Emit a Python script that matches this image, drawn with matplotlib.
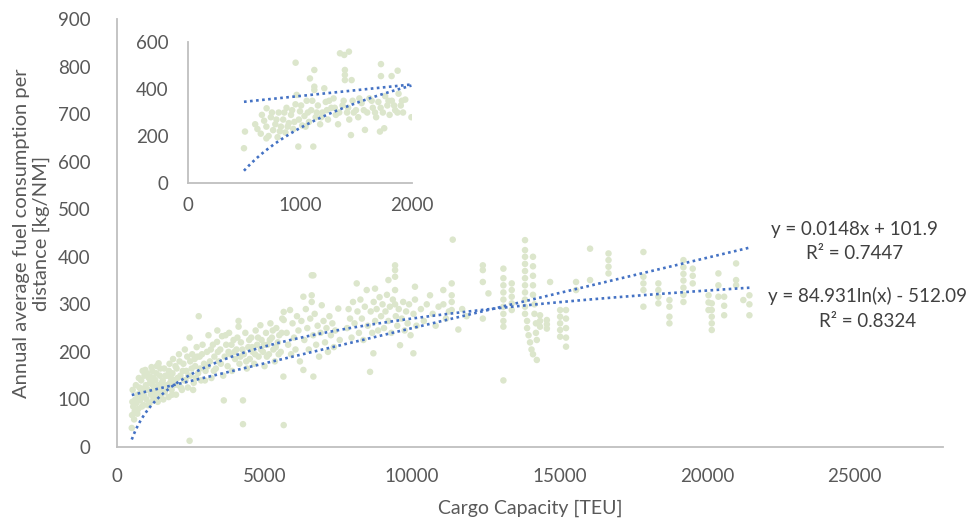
import matplotlib.pyplot as plt
import numpy as np

plt.rcParams['font.family'] = ['Lato', 'DejaVu Sans']

# container ships: cargo capacity [TEU] vs annual fuel per distance [kg/NM]
capacity = [
    500, 510, 550, 600, 620, 650, 700, 720, 760, 780, 820, 850, 880, 900, 930, 960, 980, 1000,
    1050, 1080, 1100, 1130, 1150, 1180, 1200, 1230, 1260, 1300, 1320, 1350, 1380, 1410, 1420,
    1450, 1480, 1500,
    520, 530, 580, 640, 690, 740, 800, 840, 870, 920, 950, 1020, 1060, 1120, 1170, 1210, 1240,
    1290, 1330, 1370, 1440, 1470, 1520, 1570, 1640, 1720, 1760, 1830, 1870, 1920, 1980, 2050,
    2120, 2170, 2230, 2320, 2380, 2420, 2530, 2580, 2630, 2680, 2720, 2820, 2880, 2980,
    1550, 1600, 1620, 1680, 1700, 1750, 1780, 1800, 1850, 1880, 1900, 1950, 2000, 2020, 2080,
    2100, 2150, 2200, 2250, 2280, 2300, 2350, 2400, 2460, 2460, 2480, 2500, 2550, 2600, 2650,
    2700, 2770, 2750, 2800, 2850, 2900, 2950, 3000,
    3050, 3100, 3150, 3200, 3250, 3300, 3350, 3390, 3400, 3450, 3500, 3560, 3600, 3620, 3650,
    3700, 3750, 3800, 3850, 3900, 3950, 4000, 4050, 4120, 4120, 4150, 4200, 4270, 4270, 4300,
    4350, 4400, 4450, 4500, 4550, 4600, 4650, 4700, 4750, 4800, 4860, 4900, 4950, 5000, 5050,
    5100, 5150, 5200, 5250, 5300, 5350, 5400, 5450, 5500, 5550, 5600, 5650, 5650, 5640, 5650,
    3080, 3180, 3280, 3420, 3520, 3680, 3780, 3880, 3980, 4080, 4180, 4250, 4380, 4480, 4580,
    4680, 4780, 4880, 4980, 5080, 5180, 5280, 5380, 5480, 5580,
    5750, 5800, 5865, 5900, 5950, 6000, 6050, 6100, 6150, 6200, 6250, 6317, 6317, 6350, 6400,
    6450, 6500, 6550, 6600, 6600, 6600, 6656, 6656, 6650, 6700, 6750, 6800, 6850, 6900, 6940,
    7000, 7050, 7100, 7150, 7200, 7250, 7300, 7350, 7400, 7500, 7550,
    7800, 7850, 7900, 7950, 8000, 8050, 8125, 8150, 8200, 8250, 8300, 8350, 8400, 8464, 8500,
    8577, 8600, 8650, 8690, 8700, 8746, 8750, 8800, 8850, 8900, 8950, 9000, 9050, 9100, 9150,
    9200, 9200, 9250, 9300, 9350, 9425, 9425, 9425, 9425, 9425, 9450, 9500, 9550, 9594, 9650,
    9700, 9750, 9800, 9850, 9900, 9950, 10046, 10050, 10100, 10100, 10150,
    10300, 10400, 10500, 10610, 10700, 10800, 10900, 11060, 11063, 11150, 11250, 11345, 11345,
    11345, 11345, 11380, 11570, 11700, 11850,
    12400, 12400, 12400, 12400, 12590, 13097, 13097, 13097, 13097, 13097, 13097, 13097, 13097,
    13097, 13097, 13380, 13380, 13380, 13380, 13380, 13830, 13830, 13830, 13830, 13830, 13830,
    13830, 13830, 13830, 13830, 13830, 13900, 13900, 13950, 14000, 14050, 14100, 14230, 14100,
    14100, 14100, 14100, 14100, 14150, 14150, 14200, 14200, 14230, 14340, 14340, 14340, 14570,
    14570, 14570, 14680, 15020, 15020, 15020, 15020, 15020, 15220, 15220, 15220, 15220, 15220,
    15560, 15560, 16035, 16035, 16660, 16660, 16660, 16660,
    17843, 17843, 17843, 17843, 17843, 18350, 18350, 18350, 18350, 18725, 18725, 18725, 18725,
    19200, 19200, 19200, 19200, 19200, 19200, 19200, 19515, 19515, 19515, 20050, 20050, 20050,
    20160, 20160, 20160, 20160, 20160, 20385, 20385, 20385, 20580, 20580, 20580, 20985, 20985,
    20985, 21230, 21436, 21436, 21436,
]
fuel = [
    40, 67, 85, 75, 100, 92, 110, 80, 125, 98, 140, 105, 118, 88, 150, 162, 130, 100,
    120, 145, 92, 148, 110, 132, 160, 100, 125, 140, 115, 170, 95, 176, 130,
    150, 108, 122,
    95, 120, 58, 130, 70, 145, 115, 85, 160, 108, 125, 155, 88, 135, 168, 118, 145,
    105, 155, 128, 112, 165, 135, 100, 150, 125, 160, 145, 110, 130, 170, 145,
    180, 125, 160, 140, 190, 150, 165, 120, 185, 145, 190, 165, 195, 140,
    140, 165, 115, 130, 150, 105, 175, 135, 120, 155, 185, 140, 110, 165, 130,
    195, 150, 120, 175, 140, 205, 160, 125, 230, 13, 180, 150, 195, 135, 170,
    210, 275, 155, 190, 140, 215, 175, 160,
    200, 235, 180, 145, 215, 190, 165, 221, 245, 180, 205, 233, 150, 98, 190,
    215, 170, 240, 195, 160, 225, 185, 205, 265, 253, 175, 220, 98, 48, 195,
    240, 165, 210, 185, 230, 200, 175, 245, 215, 190, 256, 225, 200, 170, 240,
    215, 195, 260, 230, 205, 180, 250, 220, 235, 200, 270, 284, 267, 148, 46,
    170, 205, 160, 200, 175, 235, 200, 215, 200, 230, 190, 205, 180, 225, 210,
    195, 230, 205, 215, 190, 225, 245, 210, 195, 240,
    240, 215, 288, 195, 260, 230, 205, 275, 245, 180, 265, 316, 162, 225, 290,
    250, 205, 270, 361, 319, 305, 361, 148, 235, 280, 215, 255, 190, 240, 298,
    265, 220, 250, 200, 275, 235, 260, 210, 245, 291, 225,
    250, 290, 270, 230, 305, 260, 344, 285, 240, 310, 270, 225, 295, 330, 255,
    158, 285, 240, 197, 305, 333, 265, 290, 245, 315, 275, 300, 250, 285, 320,
    351, 265, 295, 240, 310, 382, 372, 358, 330, 300, 275, 255, 290, 214, 270,
    305, 245, 285, 260, 300, 235, 197, 280, 337, 310, 255,
    290, 265, 300, 319, 280, 255, 295, 330, 300, 270, 285, 344, 319,
    305, 288, 436, 247, 290, 275,
    382, 372, 347, 270, 323, 375, 355, 340, 325, 310, 295, 280, 265,
    253, 140, 344, 330, 316, 302, 288, 435, 414, 400, 385, 370, 355,
    340, 325, 310, 295, 280, 265, 250, 235, 220, 205, 195, 183, 400,
    380, 360, 340, 320, 300, 280, 260, 240, 225, 277, 265, 253, 267,
    258, 249, 347, 288, 274, 260, 246, 232, 288, 270, 250, 230, 211,
    347, 330, 417, 351, 407, 393, 379, 365,
    410, 358, 344, 330, 295, 344, 330, 316, 302, 309, 295, 274, 260,
    393, 378, 364, 350, 335, 320, 305, 375, 360, 344, 319, 304, 288,
    302, 288, 274, 260, 246, 365, 340, 316, 316, 297, 277, 386, 351,
    340, 309, 319, 300, 277,
]

# smaller ships shown in the inset
inset_capacity = [
    500, 509, 600, 620, 650, 680, 700, 702, 720, 740, 760, 780, 800, 810, 830, 850, 870, 880,
    900, 920, 940, 960, 961, 970, 985, 990, 1000, 1020, 1040, 1060, 1080, 1089, 1100, 1119,
    1128, 1128, 1128, 1140, 1160, 1180, 1200, 1217, 1230, 1250, 1280, 1300, 1320, 1340, 1357,
    1380, 1395, 1401, 1401, 1401, 1420, 1437, 1440, 1455, 1461, 1470, 1500, 1520, 1550, 1580,
    1600, 1620, 1650, 1680, 1700, 1714, 1723, 1723, 1740, 1752, 1760, 1780, 1800, 1818, 1820,
    1850, 1872, 1880, 1900, 1920, 1940, 1995,
    660, 700, 750, 790, 820, 860, 890, 930, 950, 1010, 1050, 1070, 1110, 1150, 1190, 1240, 1260,
    1310, 1350, 1390, 1430, 1480, 1530, 1570, 1640, 1670, 1720, 1790, 1840, 1870, 1910,
]
inset_fuel = [
    148, 219, 250, 230, 210, 265, 240, 318, 200, 280, 225, 250, 195, 300, 240, 270, 215, 320,
    255, 290, 230, 335, 512, 375, 155, 270, 305, 245, 285, 350, 260, 445, 310, 155,
    481, 410, 396, 280, 330, 250, 300, 403, 345, 270, 320, 360, 290, 250, 552,
    330, 545, 481, 460, 438, 300, 559, 270, 204, 438, 350, 310, 280, 340, 226,
    300, 360, 320, 280, 345, 219, 506, 455, 300, 233, 370, 330, 290, 455, 350,
    310, 478, 380, 330, 300, 355, 280,
    290, 190, 300, 270, 220, 300, 240, 310, 260, 330, 240, 300, 350, 300, 280, 310, 350,
    320, 300, 350, 320, 300, 360, 310, 350, 300, 320, 350, 330, 300, 350,
]

# Excel trendlines (equations printed on the chart)
lin_slope, lin_icpt = 0.0148, 101.9
log_coef, log_icpt = 84.931, -512.09
inset_lin_slope, inset_lin_icpt = 0.0493, 321.0
inset_log_coef, inset_log_icpt = 262.0, -1576.0

grey_txt = '#595959'
axis_col = '#bfbfbf'
dot_col = '#dce6cc'
trend_col = '#4472c4'
trend_ls = (0, (1, 1.3))
fs = 13.5

fig = plt.figure(figsize=(9.8, 5.22), dpi=100)
ax = fig.add_axes([0.1194, 0.1437, 0.8429, 0.8199])

cap = np.array(capacity, dtype=float)
ax.scatter(cap, fuel, s=22, color=dot_col, edgecolors='none', zorder=2)

xs = np.linspace(cap.min(), cap.max(), 300)
ax.plot(xs, lin_slope * xs + lin_icpt, color=trend_col, lw=1.9, ls=trend_ls, zorder=3)
ax.plot(xs, log_coef * np.log(xs) + log_icpt, color=trend_col, lw=1.9, ls=trend_ls, zorder=3)

ax.set_xlim(0, 28000)
ax.set_ylim(0, 900)
ax.set_xticks(np.arange(0, 25001, 5000))
ax.set_yticks(np.arange(0, 901, 100))
for s in ['top', 'right']:
    ax.spines[s].set_visible(False)
for s in ['left', 'bottom']:
    ax.spines[s].set_color(axis_col)
    ax.spines[s].set_linewidth(1.3)
ax.tick_params(axis='x', length=0, pad=15, labelsize=fs, labelcolor=grey_txt)
ax.tick_params(axis='y', length=0, pad=19, labelsize=fs, labelcolor=grey_txt)

ax.set_xlabel('Cargo Capacity [TEU]', fontsize=14, color=grey_txt, labelpad=11)
ax.set_ylabel('Annual average fuel consumption per\ndistance [kg/NM]', fontsize=14.5,
              color=grey_txt, labelpad=6, linespacing=1.15)

eq_col = '#404040'
ax.text(0.893, 0.509, 'y = 0.0148x + 101.9', transform=ax.transAxes, ha='center',
        va='center', fontsize=fs, color=eq_col)
ax.text(0.893, 0.451, 'R² = 0.7447', transform=ax.transAxes, ha='center',
        va='center', fontsize=fs, color=eq_col)
ax.text(0.909, 0.353, 'y = 84.931ln(x) - 512.09', transform=ax.transAxes,
        ha='center', va='center', fontsize=fs, color=eq_col)
ax.text(0.909, 0.294, 'R² = 0.8324', transform=ax.transAxes, ha='center',
        va='center', fontsize=fs, color=eq_col)

# inset: small ships only
ins = fig.add_axes([0.1918, 0.6494, 0.2286, 0.2701])
ins.patch.set_alpha(0)
icap = np.array(inset_capacity, dtype=float)
ins.scatter(icap, inset_fuel, s=22, color=dot_col, edgecolors='none', zorder=2)
ixs = np.linspace(icap.min(), icap.max(), 200)
ins.plot(ixs, inset_lin_slope * ixs + inset_lin_icpt, color=trend_col, lw=1.9,
         ls=trend_ls, zorder=3)
ins.plot(ixs, inset_log_coef * np.log(ixs) + inset_log_icpt, color=trend_col, lw=1.9,
         ls=trend_ls, zorder=3)
ins.set_xlim(0, 2000)
ins.set_ylim(0, 600)
ins.set_xticks([0, 1000, 2000])
ins.set_yticks([0, 200, 400, 600])
for s in ['top', 'right']:
    ins.spines[s].set_visible(False)
for s in ['left', 'bottom']:
    ins.spines[s].set_color(axis_col)
    ins.spines[s].set_linewidth(1.3)
ins.tick_params(axis='x', length=0, pad=10, labelsize=fs, labelcolor=grey_txt)
ins.tick_params(axis='y', length=0, pad=14, labelsize=fs, labelcolor=grey_txt)

fig.savefig('out.png', dpi=100)
